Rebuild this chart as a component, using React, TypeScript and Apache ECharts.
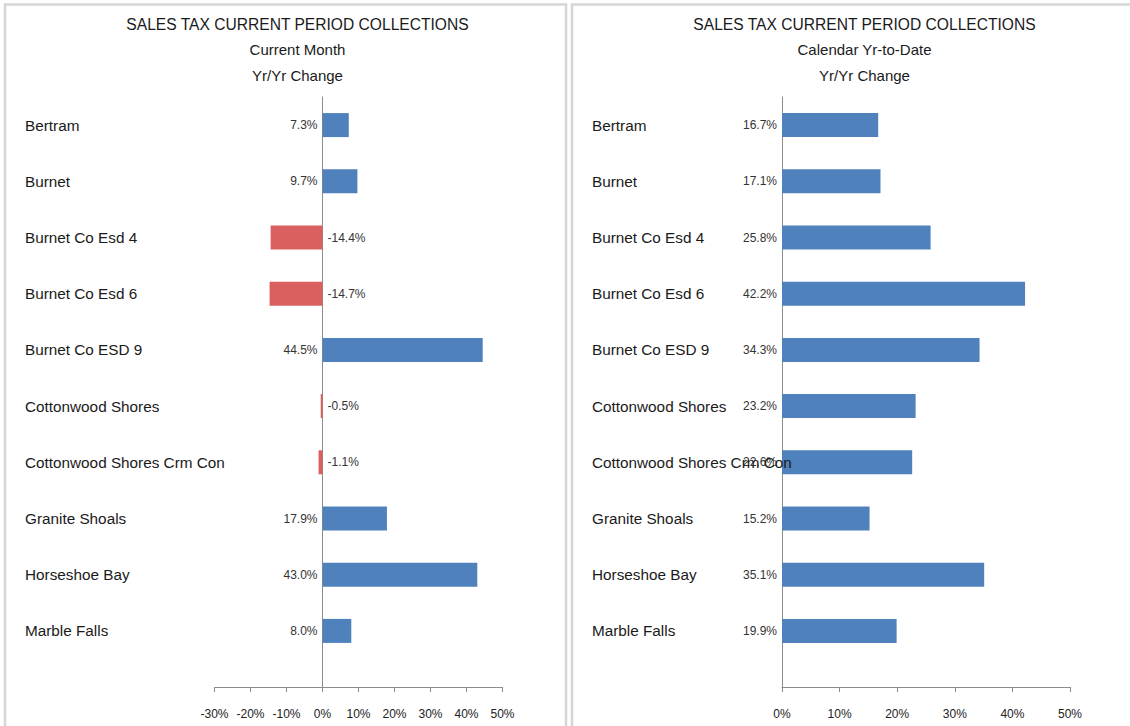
import React, { useEffect, useRef } from "react";
import * as echarts from "echarts";

const categories = [
  "Bertram",
  "Burnet",
  "Burnet Co Esd 4",
  "Burnet Co Esd 6",
  "Burnet Co ESD 9",
  "Cottonwood Shores",
  "Cottonwood Shores Crm Con",
  "Granite Shoals",
  "Horseshoe Bay",
  "Marble Falls",
];
const currentMonthChange = [7.3, 9.7, -14.4, -14.7, 44.5, -0.5, -1.1, 17.9, 43.0, 8.0];
const ytdChange = [16.7, 17.1, 25.8, 42.2, 34.3, 23.2, 22.6, 15.2, 35.1, 19.9];

const mainTitle = "SALES TAX CURRENT PERIOD COLLECTIONS";
const leftSubtitles = ["Current Month", "Yr/Yr Change"];
const rightSubtitles = ["Calendar Yr-to-Date", "Yr/Yr Change"];

const leftAxis = { min: -30, max: 50, interval: 10 };
const rightAxis = { min: 0, max: 50, interval: 10 };

const BLUE = "#4f81bd";
const RED = "#d9605e";
const FONT = "'Liberation Sans', Arial, Helvetica, sans-serif";
const TEXT = "#1a1a1a";
const AXIS = "#8c8c8c";

function barData(values: number[]) {
  return values.map((v) => ({
    value: v,
    itemStyle: { color: v < 0 ? RED : BLUE },
    label: { position: v < 0 ? "right" : "left" },
  }));
}

export default function App() {
  const ref = useRef<HTMLDivElement>(null);
  useEffect(() => {
    if (!ref.current) return;
    const chart = echarts.init(ref.current, null, { renderer: "svg" });

    const gridTop = 97;
    const bandH = 56.2;
    const barsH = bandH * categories.length;
    const axisH = 590;
    const panels = [
      { left: 214.5, width: 288, axis: leftAxis },
      { left: 782, width: 288, axis: rightAxis },
    ];

    const grids: any[] = [];
    const xAxes: any[] = [];
    const yAxes: any[] = [];
    panels.forEach((p, i) => {
      grids.push({ left: p.left, width: p.width, top: gridTop, height: barsH, containLabel: false });
      grids.push({ left: p.left, width: p.width, top: gridTop, height: axisH, containLabel: false });
      // bars grid axes
      xAxes.push({
        type: "value",
        gridIndex: i * 2,
        min: p.axis.min,
        max: p.axis.max,
        interval: p.axis.interval,
        show: false,
      });
      yAxes.push({
        type: "category",
        gridIndex: i * 2,
        data: categories,
        inverse: true,
        z: 5,
        axisLine: { show: false, onZero: false },
        axisTick: { show: false },
        splitLine: { show: false },
        axisLabel: {
          align: "left",
          margin: p.left - (i === 0 ? 25 : 592),
          fontSize: 15.3,
          fontFamily: FONT,
          color: TEXT,
        },
      });
      // axis grid
      xAxes.push({
        type: "value",
        gridIndex: i * 2 + 1,
        min: p.axis.min,
        max: p.axis.max,
        interval: p.axis.interval,
        position: "bottom",
        axisLine: { show: true, onZero: false, lineStyle: { color: AXIS, width: 1 } },
        axisTick: { show: true, length: 5, lineStyle: { color: AXIS } },
        splitLine: { show: false },
        axisLabel: {
          formatter: "{value}%",
          margin: 21,
          fontSize: 12,
          fontFamily: FONT,
          color: "#222",
        },
      });
      yAxes.push({
        type: "value",
        gridIndex: i * 2 + 1,
        min: 0,
        max: 1,
        axisLine: { show: true, onZero: true, lineStyle: { color: AXIS, width: 1 } },
        axisTick: { show: false },
        axisLabel: { show: false },
        splitLine: { show: false },
      });
    });

    const labelCommon = {
      show: true,
      distance: 5,
      fontSize: 12,
      fontFamily: FONT,
      color: "#333",
      formatter: (p: any) => Number(p.value).toFixed(1) + "%",
    };

    const series: any[] = [
      {
        type: "bar",
        xAxisIndex: 0,
        yAxisIndex: 0,
        data: barData(currentMonthChange),
        barWidth: 24,
        label: labelCommon,
      },
      {
        type: "bar",
        xAxisIndex: 2,
        yAxisIndex: 2,
        data: barData(ytdChange),
        barWidth: 24,
        label: labelCommon,
      },
    ];

    const titleText = (text: string, x: number, y: number, size: number) => ({
      type: "text",
      x,
      y,
      style: {
        text,
        fill: TEXT,
        font: `${size}px ${FONT}`,
        align: "center",
        verticalAlign: "middle",
      },
    });

    const graphic: any[] = [
      {
        type: "rect",
        shape: { x: 5, y: 4.5, width: 561, height: 800 },
        style: { fill: "none", stroke: "#d6d6d6", lineWidth: 2.5 },
        silent: true,
      },
      {
        type: "rect",
        shape: { x: 572, y: 4.5, width: 620, height: 800 },
        style: { fill: "none", stroke: "#d6d6d6", lineWidth: 2.5 },
        silent: true,
      },
      titleText(mainTitle, 297.5, 24, 15.6),
      titleText(leftSubtitles[0], 297.5, 49.5, 15),
      titleText(leftSubtitles[1], 297.5, 75.5, 15),
      titleText(mainTitle, 864.5, 24, 15.6),
      titleText(rightSubtitles[0], 864.5, 49.5, 15),
      titleText(rightSubtitles[1], 864.5, 75.5, 15),
    ];

    chart.setOption({
      animation: false,
      backgroundColor: "#ffffff",
      grid: grids,
      xAxis: xAxes,
      yAxis: yAxes,
      series,
      graphic,
    });

    return () => chart.dispose();
  }, []);

  return (
    <div
      ref={ref}
      style={{ position: "fixed", left: 0, top: 0, width: 1130, height: 726, background: "#fff" }}
    />
  );
}
